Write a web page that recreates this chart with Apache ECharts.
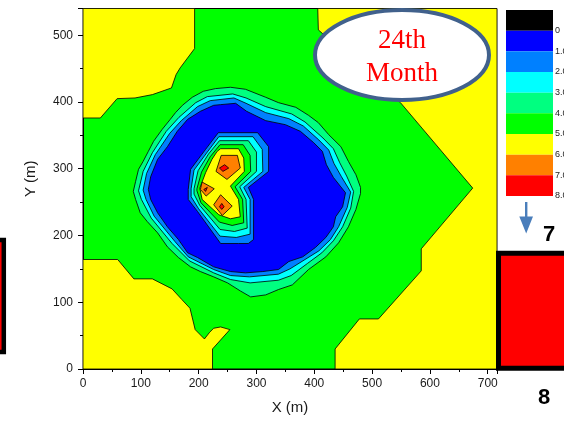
<!DOCTYPE html>
<html>
<head>
<meta charset="utf-8">
<script src="https://cdn.jsdelivr.net/npm/echarts@6/dist/echarts.min.js"></script>
<style>
  html, body { margin: 0; padding: 0; background: #ffffff; }
  #chart { width: 564px; height: 425px; }
</style>
</head>
<body>
<div id="chart"></div>
<script>
// Contour band colours, lowest band first (0-1, 1-2, ... 8+)
const levelColors = ['#000000', '#0000FF', '#0080FF', '#00FFFF', '#00FF80', '#00FF00', '#FFFF00', '#FF8000', '#FF0000'];
// Colour-bar boundary labels (0 ... 8)
const levelLabels = ['0', '1.000', '2.000', '3.000', '4.000', '5.000', '6.000', '7.000', '8.000'];

// Contour polygons, [X (m), Y (m)]
// Outer yellow zones (level 6-7)
const yellowNW = [[0,540],[0,376],[30,376],[59,405],[90,406],[120,411],[153,421],[161,441],[168,451],[193,480],[193,540]];
const yellowNE = [[406,540],[407,508],[549,399],[674,271],[585,180],[585,147],[511,75],[478,75],[436,30],[436,0],[716,0],[716,540]];
const yellowSW = [[0,0],[0,164],[60,164],[88,135],[120,135],[154,120],[171,104],[185,91],[194,59],[210,45],[219,55],[226,61],[238,63],[254,59],[224,30],[224,0]];

// Depression rings, outermost first
const ring5 = [[208,416],[229,420],[255,422],[281,419],[316,407],[338,399],[368,392],[390,380],[407,369],[425,351],[446,333],[459,311],[472,291],[480,272],[480,263],[472,239],[459,213],[442,189],[420,168],[390,149],[362,126],[338,119],[316,111],[290,108],[272,117],[250,129],[226,138],[203,146],[186,153],[165,167],[146,183],[129,204],[111,221],[99,234],[91,254],[87,266],[91,281],[96,299],[104,311],[113,326],[122,341],[137,359],[151,374],[160,384],[172,395],[189,407]];
const ring4 = [[215,408],[259,412],[282,406],[316,393],[361,382],[384,370],[415,346],[433,330],[444,309],[456,289],[468,266],[463,241],[449,213],[433,192],[413,174],[388,158],[360,140],[338,133],[289,129],[255,134],[226,144],[184,162],[154,188],[118,226],[101,254],[96,267],[104,296],[120,324],[144,356],[166,377],[195,399]];
const ring3 = [[220,402],[261,406],[282,398],[316,384],[356,375],[381,364],[408,343],[425,328],[434,308],[447,288],[463,265],[457,242],[442,213],[428,194],[408,177],[384,164],[358,150],[338,142],[288,138],[255,140],[226,149],[182,168],[159,191],[123,229],[109,254],[104,268],[110,293],[125,321],[150,353],[170,372],[198,393]];
const ring2 = [[226,395],[238,396],[264,398],[283,386],[316,372],[350,366],[376,356],[399,339],[414,326],[421,306],[433,287],[454,264],[449,243],[437,228],[433,213],[420,197],[402,182],[380,168],[356,161],[338,149],[311,146],[281,144],[255,146],[226,153],[198,167],[181,174],[165,194],[146,213],[129,234],[117,254],[113,269],[117,288],[129,314],[146,333],[163,356],[181,374],[203,386]];

// Central mound, outermost first
const peak2 = [[234,354],[302,354],[321,333],[321,296],[286,272],[295,254],[295,194],[286,188],[269,188],[238,188],[198,236],[182,254],[182,269],[186,299],[212,329]];
const peak3 = [[235,348],[294,348],[310,329],[311,296],[278,272],[289,254],[289,202],[265,197],[237,199],[200,240],[187,258],[187,270],[192,298],[215,325]];
const peak4 = [[236,342],[286,342],[300,325],[300,296],[271,273],[282,254],[284,211],[262,206],[237,209],[202,245],[192,262],[192,270],[199,297],[217,322]];
const peak5 = [[237,336],[277,336],[289,320],[290,296],[263,273],[276,254],[278,219],[258,215],[236,220],[204,249],[197,267],[197,270],[205,295],[220,318]];
const peak6 = [[238,330],[269,330],[278,316],[279,296],[255,274],[269,254],[272,228],[255,225],[235,231],[206,254],[202,271],[212,294],[223,314],[232,326]];
const orangeN = [[239,320],[267,320],[272,301],[249,284],[230,296]];
const orangeW = [[206,280],[227,270],[213,259],[203,269]];
const orangeS = [[226,246],[238,261],[258,244],[241,230]];
const redN = [[236,301],[245,306],[252,301],[242,296]];
const redW = [[209,269],[215,272],[212,266]];
const redS = [[236,243],[240,248],[244,243],[240,239]];

// Fill order: each polygon with its band index into levelColors
const layers = [
  { pts: yellowNW, band: 6 }, { pts: yellowNE, band: 6 }, { pts: yellowSW, band: 6 },
  { pts: ring5, band: 4 }, { pts: ring4, band: 3 }, { pts: ring3, band: 2 }, { pts: ring2, band: 1 },
  { pts: peak2, band: 2 }, { pts: peak3, band: 3 }, { pts: peak4, band: 4 }, { pts: peak5, band: 5 }, { pts: peak6, band: 6 },
  { pts: orangeN, band: 7 }, { pts: orangeW, band: 7 }, { pts: orangeS, band: 7 },
  { pts: redN, band: 8 }, { pts: redW, band: 8 }, { pts: redS, band: 8 }
];

const chart = echarts.init(document.getElementById('chart'), null, { renderer: 'canvas' });
const axisFont = { fontFamily: '"Liberation Sans", Arial, sans-serif', color: '#1a1a1a' };

chart.setOption({
  animation: false,
  backgroundColor: '#ffffff',
  grid: [
    { left: 83, right: 67, top: 8.5, bottom: 56, show: true, backgroundColor: '#00FF00', borderColor: '#000', borderWidth: 1, outerBoundsMode: 'none', containLabel: false },
    { left: 506, right: 11, top: 10, bottom: 229, show: false, outerBoundsMode: 'none', containLabel: false }
  ],
  xAxis: [
    {
      gridIndex: 0, type: 'value', min: 0, max: 716, interval: 100,
      name: 'X (m)', nameLocation: 'middle', nameGap: 31,
      nameTextStyle: Object.assign({ fontSize: 15 }, axisFont),
      axisLine: { lineStyle: { color: '#000', width: 1 } },
      axisTick: { inside: false, length: 5, lineStyle: { color: '#000' } },
      minorTick: { show: true, splitNumber: 2, length: 3, lineStyle: { color: '#000' } },
      axisLabel: Object.assign({ fontSize: 12, margin: 9, showMaxLabel: false }, axisFont),
      splitLine: { show: false }
    },
    { gridIndex: 1, type: 'value', min: 0, max: 1, show: false }
  ],
  yAxis: [
    {
      gridIndex: 0, type: 'value', min: 0, max: 540, interval: 100,
      name: 'Y (m)', nameLocation: 'middle', nameGap: 45,
      nameTextStyle: Object.assign({ fontSize: 15, padding: [0, 0, 0, 20] }, axisFont),
      axisLine: { lineStyle: { color: '#000', width: 1 } },
      axisTick: { inside: false, length: 5, lineStyle: { color: '#000' } },
      minorTick: { show: true, splitNumber: 2, length: 3, lineStyle: { color: '#000' } },
      axisLabel: Object.assign({ fontSize: 12, margin: 10, showMaxLabel: false }, axisFont),
      splitLine: { show: false }
    },
    {
      gridIndex: 1, type: 'value', min: -1, max: 8, interval: 1, inverse: true, position: 'right',
      axisLine: { show: false }, axisTick: { show: false }, splitLine: { show: false },
      axisLabel: {
        fontSize: 9, margin: 2, color: '#222', fontFamily: '"Liberation Sans", Arial, sans-serif',
        formatter: v => (v < 0 ? '' : levelLabels[v])
      }
    }
  ],
  series: [
    {
      type: 'custom', xAxisIndex: 0, yAxisIndex: 0, clip: true,
      data: layers.map((l, i) => [i]),
      renderItem: (params, api) => {
        const layer = layers[params.dataIndex];
        return {
          type: 'polygon',
          shape: { points: layer.pts.map(p => api.coord(p)) },
          style: { fill: levelColors[layer.band], stroke: '#000', lineWidth: 0.8 }
        };
      }
    },
    {
      // colour bar: one band per level, band k spans k-1 .. k
      type: 'custom', xAxisIndex: 1, yAxisIndex: 1,
      data: levelColors.map((c, k) => [k]),
      renderItem: (params, api) => {
        const k = params.dataIndex;
        const a = api.coord([0, k - 1]);
        const b = api.coord([1, k]);
        return {
          type: 'rect',
          shape: { x: a[0], y: a[1], width: b[0] - a[0], height: b[1] - a[1] },
          style: { fill: levelColors[k] }
        };
      }
    }
  ],
  graphic: [
    {
      type: 'ellipse', z: 100,
      shape: { cx: 402, cy: 55, rx: 87, ry: 45 },
      style: { fill: '#ffffff', stroke: '#41618C', lineWidth: 4 }
    },
    {
      type: 'text', z: 101, x: 402, y: 57,
      style: {
        text: '24th\nMonth', font: '27px "Liberation Serif", "Times New Roman", serif',
        fill: '#FF0000', align: 'center', verticalAlign: 'middle', lineHeight: 33
      }
    },
    {
      type: 'rect', z: 100,
      shape: { x: 498.5, y: 253.2, width: 100, height: 115 },
      style: { fill: '#FF0000', stroke: '#000', lineWidth: 5 }
    },
    {
      type: 'rect', z: 100,
      shape: { x: -50, y: 240, width: 53.8, height: 112 },
      style: { fill: '#FF0000', stroke: '#000', lineWidth: 4.5 }
    },
    {
      type: 'polygon', z: 100,
      shape: { points: [[525, 202], [527.4, 202], [527.4, 216.5], [533, 216.5], [526.2, 233.5], [519.3, 216.5], [525, 216.5]] },
      style: { fill: '#4A7EBB' }
    },
    {
      type: 'text', z: 101, x: 549, y: 235,
      style: { text: '7', font: 'bold 22px "Liberation Sans", Arial, sans-serif', fill: '#000', align: 'center', verticalAlign: 'middle' }
    },
    {
      type: 'text', z: 101, x: 544, y: 398,
      style: { text: '8', font: 'bold 22px "Liberation Sans", Arial, sans-serif', fill: '#000', align: 'center', verticalAlign: 'middle' }
    }
  ]
});
</script>
</body>
</html>
